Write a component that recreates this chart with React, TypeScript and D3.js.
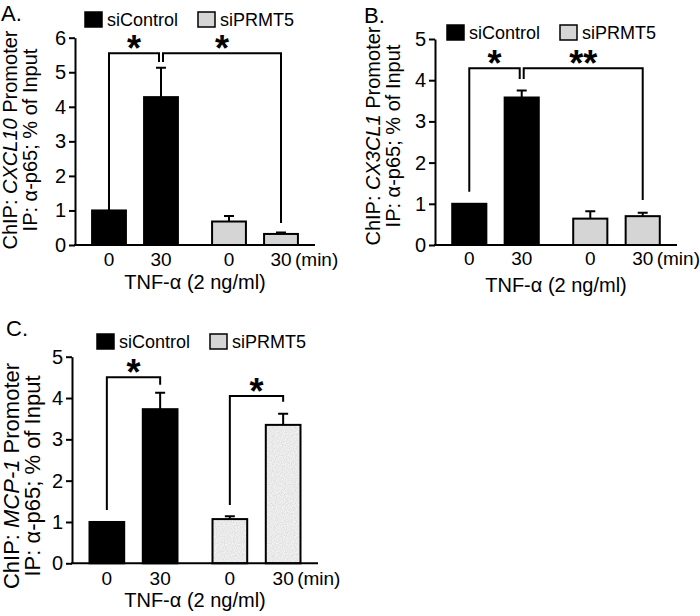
import React, { useEffect, useRef } from 'react'
import * as d3 from 'd3'

const groups = ['siControl', 'siPRMT5']
const times = ['0', '30']
const ticksA = [0, 1, 2, 3, 4, 5, 6]
const ticksBC = [0, 1, 2, 3, 4, 5]

// bar order: siControl 0, siControl 30, siPRMT5 0, siPRMT5 30
const cxcl10Mean = [1.0, 4.28, 0.68, 0.32]
const cxcl10Err = [0, 0.85, 0.16, 0.04]
const cx3cl1Mean = [1.0, 3.58, 0.64, 0.7]
const cx3cl1Err = [0, 0.17, 0.18, 0.08]
const mcp1Mean = [1.0, 3.73, 1.07, 3.35]
const mcp1Err = [0, 0.4, 0.07, 0.27]

// significance brackets: bar indices, bracket level and where each leg stops (data units)
const cxcl10Sig = [
  { from: 0, to: 1, level: 5.55, legs: [1.0, 5.3], label: '*' },
  { from: 1, to: 3, level: 5.55, legs: [5.3, 0.64], label: '*' },
]
const cx3cl1Sig = [
  { from: 0, to: 1, level: 4.29, legs: [1.29, 4.03], label: '*' },
  { from: 1, to: 3, level: 4.29, legs: [4.03, 1.09], label: '**' },
]
const mcp1Sig = [
  { from: 0, to: 1, level: 4.5, legs: [1.29, 4.32], label: '*' },
  { from: 2, to: 3, level: 4.05, legs: [1.41, 3.91], label: '*' },
]

const FONT = '"Liberation Sans", Arial, sans-serif'
const GRAY = '#d5d5d5'

const panels = [
  {
    tag: 'A.', tagX: 1, tagY: 21, gene: 'CXCL10',
    x0: 75, x1: 315, yTop: 37.7, yBottom: 245, max: 6, ticks: ticksA,
    mean: cxcl10Mean, err: cxcl10Err, sig: cxcl10Sig,
    labX: [17, 37], labY: 140, labSize: 20,
    legX: 85, legY: 12, tickY: 266, titleY: 289, noise: false,
  },
  {
    tag: 'B.', tagX: 364, tagY: 23, gene: 'CX3CL1',
    x0: 435, x1: 677, yTop: 39, yBottom: 245, max: 5, ticks: ticksBC,
    mean: cx3cl1Mean, err: cx3cl1Err, sig: cx3cl1Sig,
    labX: [380, 400], labY: 136, labSize: 20,
    legX: 447, legY: 25, tickY: 265, titleY: 292, noise: false,
  },
  {
    tag: 'C.', tagX: 6, tagY: 336, gene: 'MCP-1',
    x0: 72, x1: 318, yTop: 356.7, yBottom: 563.3, max: 5, ticks: ticksBC,
    mean: mcp1Mean, err: mcp1Err, sig: mcp1Sig,
    labX: [19, 40], labY: 476, labSize: 22,
    legX: 97, legY: 334, tickY: 585, titleY: 607, noise: true,
  },
]

function drawPanel(root: d3.Selection<SVGGElement, unknown, null, undefined>, p: any) {
  const g = root.append('g')

  const x = d3.scaleBand().domain(groups).range([p.x0, p.x1]).paddingInner(0.1).paddingOuter(0.05)
  const xi = d3.scaleBand().domain(times).range([0, x.bandwidth()]).paddingInner(0.349).paddingOuter(0.213)
  const y = d3.scaleLinear().domain([0, p.max]).range([p.yBottom, p.yTop])

  const bars = p.mean.map((v: number, i: number) => ({
    group: groups[Math.floor(i / 2)],
    time: times[i % 2],
    mean: v,
    err: p.err[i],
  }))
  const left = (d: any) => (x(d.group) || 0) + (xi(d.time) || 0)
  const cx = (i: number) => left(bars[i]) + xi.bandwidth() / 2

  // panel tag
  g.append('text').attr('x', p.tagX).attr('y', p.tagY)
    .attr('font-family', FONT).attr('font-size', 22).text(p.tag)

  // y label (two lines)
  const lab1 = g.append('text')
    .attr('transform', `translate(${p.labX[0]},${p.labY}) rotate(-90)`)
    .attr('text-anchor', 'middle').attr('font-family', FONT).attr('font-size', p.labSize)
  lab1.append('tspan').text('ChIP: ')
  lab1.append('tspan').attr('font-style', 'italic').text(p.gene)
  lab1.append('tspan').text(' Promoter')
  g.append('text')
    .attr('transform', `translate(${p.labX[1]},${p.labY}) rotate(-90)`)
    .attr('text-anchor', 'middle').attr('font-family', FONT).attr('font-size', p.labSize)
    .text('IP: α-p65; % of Input')

  // bars
  g.selectAll('.bar').data(bars).join('rect')
    .attr('class', 'bar')
    .attr('x', (d: any) => left(d))
    .attr('y', (d: any) => y(d.mean))
    .attr('width', xi.bandwidth())
    .attr('height', (d: any) => y(0) - y(d.mean))
    .attr('fill', (d: any) => (d.group === groups[0] ? '#000' : p.noise ? 'url(#speckle)' : GRAY))
    .attr('stroke', '#000').attr('stroke-width', 2)

  // error bars
  const withErr = bars.map((d: any, i: number) => ({ ...d, i })).filter((d: any) => d.err > 0)
  g.selectAll('.err').data(withErr).join('path')
    .attr('class', 'err')
    .attr('d', (d: any) => {
      const c = cx(d.i)
      const top = y(d.mean + d.err)
      return `M${c},${y(d.mean)}V${top}M${c - 5},${top}H${c + 5}`
    })
    .attr('fill', 'none').attr('stroke', '#000').attr('stroke-width', 2)

  // y axis
  const ya = g.append('g')
    .attr('transform', `translate(${p.x0},0)`)
    .call(d3.axisLeft(y).tickValues(p.ticks).tickFormat(d3.format('d')).tickSize(6).tickSizeOuter(0).tickPadding(3))
  ya.select('.domain').attr('stroke-width', 2)
  ya.selectAll('.tick line').attr('stroke-width', 2)
  ya.selectAll('.tick text').attr('font-size', 20).attr('font-family', FONT).attr('fill', '#000')

  // x axis line
  g.append('line')
    .attr('x1', p.x0 - 1).attr('x2', p.x1)
    .attr('y1', y(0)).attr('y2', y(0))
    .attr('stroke', '#000').attr('stroke-width', 2)

  g.selectAll('.xlab').data(bars).join('text')
    .attr('class', 'xlab')
    .attr('x', (_d: any, i: number) => cx(i))
    .attr('y', p.tickY)
    .attr('text-anchor', 'middle').attr('font-family', FONT).attr('font-size', 19)
    .text((d: any) => d.time)
  g.append('text')
    .attr('x', cx(3) + 14).attr('y', p.tickY)
    .attr('font-family', FONT).attr('font-size', 19).text('(min)')

  g.append('text')
    .attr('x', (p.x0 + p.x1) / 2).attr('y', p.titleY)
    .attr('text-anchor', 'middle').attr('font-family', FONT).attr('font-size', 20)
    .text('TNF-α (2 ng/ml)')

  // legend
  groups.forEach((name, k) => {
    const lx = p.legX + k * 113
    g.append('rect')
      .attr('x', lx).attr('y', p.legY).attr('width', 17).attr('height', 15)
      .attr('fill', k === 0 ? '#000' : GRAY).attr('stroke', '#000').attr('stroke-width', 1.5)
    g.append('text')
      .attr('x', lx + 22).attr('y', p.legY + 14)
      .attr('font-family', FONT).attr('font-size', 18).text(name)
  })

  // significance brackets
  const shared = (i: number) => p.sig.filter((s: any) => s.from === i || s.to === i).length > 1
  p.sig.forEach((s: any) => {
    const xa = cx(s.from) + (shared(s.from) ? 2 : 0)
    const xb = cx(s.to) - (shared(s.to) ? 2 : 0)
    const ly = y(s.level)
    g.append('path')
      .attr('d', `M${xa},${y(s.legs[0])}V${ly}H${xb}V${y(s.legs[1])}`)
      .attr('fill', 'none').attr('stroke', '#000').attr('stroke-width', 2)
    g.append('text')
      .attr('x', (xa + xb) / 2).attr('y', ly + 8)
      .attr('text-anchor', 'middle').attr('font-family', FONT)
      .attr('font-weight', 'bold').attr('font-size', 36)
      .text(s.label)
  })
}

export default function App() {
  const svgRef = useRef<SVGSVGElement>(null)

  useEffect(() => {
    if (!svgRef.current) return
    const svg = d3.select(svgRef.current)
    svg.selectAll('*').remove()

    const defs = svg.append('defs')
    const f = defs.append('filter').attr('id', 'noise').attr('x', 0).attr('y', 0).attr('width', 1).attr('height', 1)
    f.append('feTurbulence').attr('type', 'fractalNoise').attr('baseFrequency', 0.9).attr('numOctaves', 1).attr('seed', 3)
    f.append('feColorMatrix').attr('type', 'matrix')
      .attr('values', '0.4 0 0 0 0.62  0.4 0 0 0 0.62  0.4 0 0 0 0.62  0 0 0 0 1')
    const pat = defs.append('pattern').attr('id', 'speckle').attr('patternUnits', 'userSpaceOnUse')
      .attr('width', 120).attr('height', 120)
    pat.append('rect').attr('width', 120).attr('height', 120).attr('fill', GRAY)
    pat.append('rect').attr('width', 120).attr('height', 120).attr('filter', 'url(#noise)')

    const root = svg.append('g')
    panels.forEach((p) => drawPanel(root as any, p))
  }, [])

  return (
    <svg
      ref={svgRef}
      width={700}
      height={616}
      style={{ position: 'absolute', left: 0, top: 0, background: '#fff' }}
    />
  )
}
